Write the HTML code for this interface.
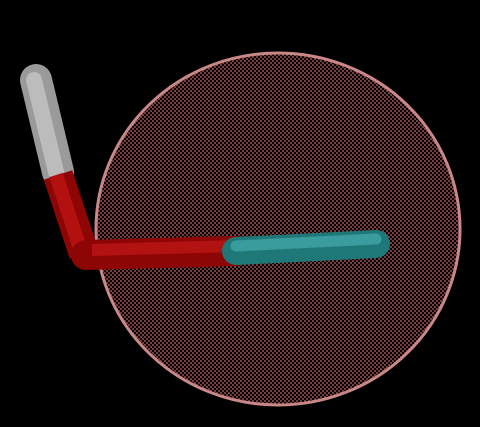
<!DOCTYPE html>
<html><head><meta charset="utf-8"><style>html,body{margin:0;padding:0;background:#000;width:480px;height:427px;overflow:hidden}</style></head>
<body>
<svg width="480" height="427" viewBox="0 0 480 427">
<defs>
<pattern id="mesh" width="4" height="4" patternUnits="userSpaceOnUse">
<rect width="4" height="4" fill="#000"/>
<rect x="0" y="0" width="2" height="2" fill="#7a3c3c"/>
<rect x="2" y="2" width="2" height="2" fill="#7a3c3c"/>
</pattern>
</defs>
<ellipse cx="278" cy="229" rx="182" ry="176" fill="url(#mesh)" stroke="#c88888" stroke-width="3"/>
<g stroke-linecap="round" fill="none">
<line x1="36" y1="80" x2="58" y2="172" stroke="#9a9a9a" stroke-width="32"/>
<line x1="34" y1="80" x2="56" y2="172" stroke="#bcbcbc" stroke-width="16"/>
<line x1="58" y1="175" x2="84" y2="254" stroke="#8e0505" stroke-width="30" stroke-linecap="butt"/>
<line x1="56" y1="175" x2="81" y2="251" stroke="#b31010" stroke-width="14" stroke-linecap="butt"/>
<line x1="86" y1="255" x2="236" y2="251" stroke="#8e0505" stroke-width="30"/>
<line x1="92" y1="250" x2="236" y2="246" stroke="#b31212" stroke-width="12" stroke-linecap="butt"/>
<line x1="236" y1="251" x2="376" y2="244" stroke="#1f7878" stroke-width="28"/>
<line x1="236" y1="246" x2="376" y2="239" stroke="#3a9c9c" stroke-width="11"/>
</g>
</svg>
</body></html>
